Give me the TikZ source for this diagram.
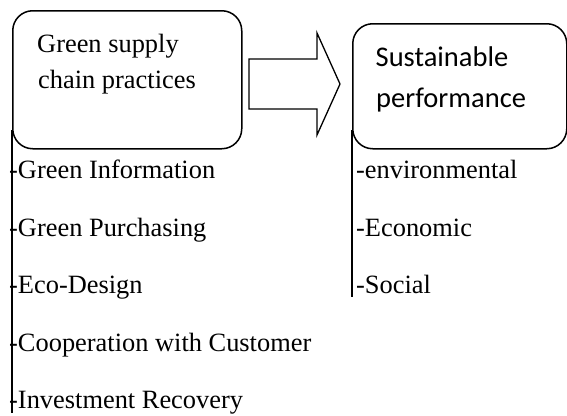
\documentclass[tikz,border=0pt]{standalone}
\usepackage{fontspec}
\setmainfont{Liberation Serif}
\newfontfamily\calib{Carlito}
\begin{document}
\begin{tikzpicture}[x=1pt,y=-1pt,
  box/.style={draw,line width=1.5pt,rounded corners=20pt,inner sep=0pt},
  lbl/.style={anchor=base west,inner sep=0pt,font=\fontsize{26.4}{30}\selectfont},
  slbl/.style={anchor=base west,inner sep=0pt,font=\calib\fontsize{28.5}{32}\selectfont},
  stem/.style={line width=2pt}]
\useasboundingbox (0,0) rectangle (567,415);
% boxes
\node[box,minimum width=229pt,minimum height=138pt,anchor=north west] (gscp) at (12,10) {};
\node[box,minimum width=214pt,minimum height=125pt,anchor=north west] (sp) at (352,23) {};
% box titles
\node[lbl] (t1) at (37,52) {Green supply};
\node[lbl] (t2) at (38,88) {chain practices};
\node[slbl] (t3) at (375.5,66) {Sustainable};
\node[slbl] (t4) at (376,107) {performance};
% block arrow
\draw[line width=1.3pt,line join=miter] (249,59) -- (317,59) -- (317,33) -- (340,84) -- (317,135) -- (317,109) -- (249,109) -- cycle;
% stems
\coordinate (ls1) at (12,130);
\coordinate (ls2) at (12,413);
\coordinate (rs1) at (352,130);
\coordinate (rs2) at (352,297);
\draw[stem] (ls1) -- (ls2);
\draw[stem] (rs1) -- (rs2);
% left items
\node[lbl] (l1) at (9,178) {-Green Information};
\node[lbl] (l2) at (9,236) {-Green Purchasing};
\node[lbl] (l3) at (9,293) {-Eco-Design};
\node[lbl] (l4) at (9,351) {-Cooperation with Customer};
\node[lbl] (l5) at (9,408) {-Investment Recovery};
% right items
\node[lbl] (r1) at (356,178) {-environmental};
\node[lbl] (r2) at (356,236) {-Economic};
\node[lbl] (r3) at (356,293) {-Social};
\end{tikzpicture}
\end{document}
